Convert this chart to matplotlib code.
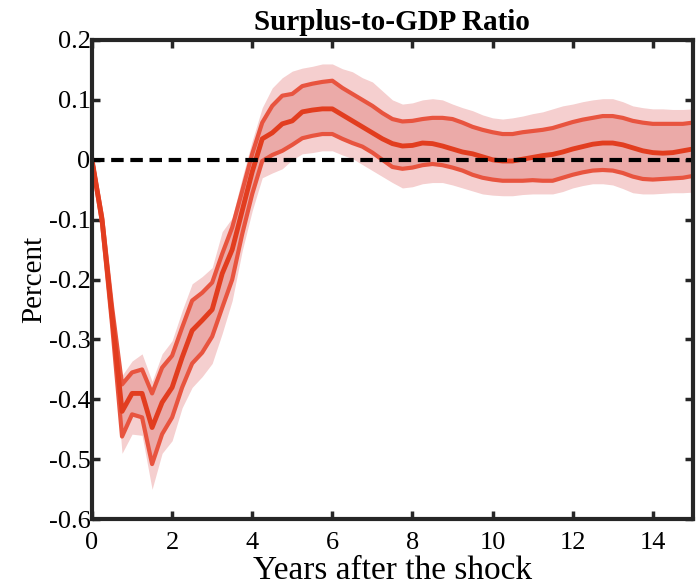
import matplotlib
matplotlib.use("Agg")
import matplotlib.pyplot as plt
import numpy as np

plt.rcParams['font.family'] = ['Liberation Serif', 'DejaVu Serif']
plt.rcParams['axes.unicode_minus'] = False

# years after the shock (quarterly)
years = np.arange(0, 15.01, 0.25)

median = [0.0, -0.10, -0.26, -0.42, -0.39, -0.39, -0.447, -0.405, -0.38, -0.33,
          -0.285, -0.268, -0.25, -0.19, -0.15, -0.085, -0.02, 0.035, 0.045, 0.06,
          0.065, 0.08, 0.083, 0.085, 0.085, 0.075, 0.065, 0.055, 0.045, 0.035,
          0.027, 0.023, 0.024, 0.028, 0.027, 0.023, 0.018, 0.013, 0.010, 0.005,
          0.0, -0.002, -0.002, 0.001, 0.004, 0.007, 0.009, 0.013, 0.018, 0.022,
          0.026, 0.028, 0.028, 0.025, 0.020, 0.015, 0.012, 0.011, 0.012, 0.015,
          0.018]

upper68 = [0.0, -0.095, -0.245, -0.375, -0.355, -0.35, -0.39, -0.347, -0.327, -0.28,
           -0.235, -0.222, -0.205, -0.157, -0.113, -0.052, 0.01, 0.062, 0.09, 0.107,
           0.11, 0.123, 0.127, 0.13, 0.132, 0.12, 0.11, 0.10, 0.09, 0.078,
           0.068, 0.064, 0.065, 0.068, 0.07, 0.07, 0.068, 0.062, 0.055, 0.05,
           0.046, 0.043, 0.043, 0.046, 0.048, 0.05, 0.053, 0.058, 0.063, 0.067,
           0.07, 0.073, 0.073, 0.07, 0.065, 0.062, 0.06, 0.06, 0.06, 0.06,
           0.062]

lower68 = [0.0, -0.105, -0.275, -0.462, -0.425, -0.43, -0.508, -0.458, -0.43, -0.38,
           -0.34, -0.322, -0.295, -0.247, -0.20, -0.124, -0.057, -0.002, 0.008, 0.015,
           0.025, 0.036, 0.04, 0.043, 0.043, 0.035, 0.028, 0.022, 0.012, 0.0,
           -0.012, -0.015, -0.013, -0.009, -0.007, -0.009, -0.013, -0.018, -0.025, -0.03,
           -0.033, -0.035, -0.035, -0.035, -0.034, -0.035, -0.035, -0.03, -0.025, -0.021,
           -0.018, -0.017, -0.018, -0.022, -0.028, -0.032, -0.033, -0.032, -0.031, -0.03,
           -0.027]

upper90 = [0.0, -0.09, -0.235, -0.36, -0.336, -0.324, -0.37, -0.324, -0.302, -0.252,
           -0.207, -0.195, -0.18, -0.12, -0.097, -0.03, 0.032, 0.087, 0.12, 0.137,
           0.148, 0.153, 0.156, 0.16, 0.16, 0.152, 0.147, 0.137, 0.13, 0.115,
           0.10, 0.093, 0.095, 0.10, 0.102, 0.10, 0.093, 0.087, 0.082, 0.075,
           0.07, 0.068, 0.07, 0.073, 0.077, 0.08, 0.085, 0.09, 0.093, 0.097,
           0.10, 0.102, 0.102, 0.097, 0.09, 0.087, 0.085, 0.085, 0.084, 0.084,
           0.085]

lower90 = [0.0, -0.11, -0.29, -0.49, -0.458, -0.46, -0.55, -0.49, -0.469, -0.414,
           -0.38, -0.362, -0.34, -0.29, -0.235, -0.152, -0.085, -0.03, -0.022, -0.015,
           0.0, 0.01, 0.012, 0.015, 0.015, 0.008, 0.002, -0.008, -0.018, -0.028,
           -0.038, -0.047, -0.045, -0.04, -0.038, -0.038, -0.042, -0.047, -0.052, -0.057,
           -0.059, -0.06, -0.06, -0.058, -0.057, -0.057, -0.057, -0.053, -0.047, -0.043,
           -0.04, -0.04, -0.042, -0.048, -0.055, -0.057, -0.057, -0.056, -0.055, -0.055,
           -0.054]

fig = plt.figure(figsize=(6.97, 5.88), dpi=100)
ax = fig.add_axes([0.132, 0.117, 0.862, 0.815])

ax.fill_between(years, lower90, upper90, color='#f5cfcf', lw=0)
ax.fill_between(years, lower68, upper68, color='#ebaaa8', lw=0)
ax.plot(years, upper68, color='#e8543f', lw=3)
ax.plot(years, lower68, color='#e8543f', lw=3)
ax.plot(years, median, color='#e23d1f', lw=3.5)
ax.axhline(0, color='black', lw=3, dashes=(3, 1.6))

ax.set_xlim(0, 15)
ax.set_ylim(-0.6, 0.2)
ax.set_xticks(np.arange(0, 15, 2))
ax.set_yticks(np.round(np.arange(-0.6, 0.21, 0.1), 1))
ax.set_yticklabels(['-0.6', '-0.5', '-0.4', '-0.3', '-0.2', '-0.1', '0', '0.1', '0.2'])

for s in ax.spines.values():
    s.set_linewidth(3)
    s.set_color('#262626')
ax.tick_params(direction='in', length=6, width=2.5, color='#262626',
               top=True, right=True, labelsize=19)
ax.tick_params(axis='x', pad=9)
ax.tick_params(axis='y', pad=1)

ax.set_xlabel('Years after the shock', fontsize=24, labelpad=1)
ax.set_ylabel('Percent', fontsize=21, labelpad=1)
ax.set_title('Surplus-to-GDP Ratio', fontsize=21, fontweight='bold', pad=7)

fig.savefig('out.png', dpi=100)
